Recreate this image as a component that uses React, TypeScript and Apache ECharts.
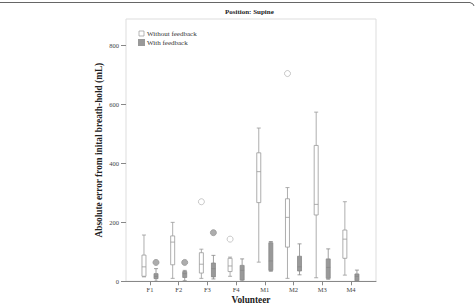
import React, { useEffect, useRef } from "react";
import * as echarts from "echarts";

const categories = ["F1", "F2", "F3", "F4", "M1", "M2", "M3", "M4"];
// [min, Q1, median, Q3, max]
const withoutFeedback = [
  [15, 17, 49, 89, 157],
  [10, 56, 133, 154, 200],
  [10, 28, 58, 97, 109],
  [17, 33, 52, 78, 82],
  [65, 267, 372, 436, 520],
  [10, 116, 217, 280, 318],
  [12, 225, 261, 461, 574],
  [21, 78, 143, 174, 270],
];
const withFeedback = [
  [0, 9, 17, 26, 43],
  [2, 13, 26, 33, 37],
  [8, 15, 43, 62, 88],
  [0, 4, 37, 54, 76],
  [34, 37, 69, 131, 135],
  [22, 35, 49, 85, 127],
  [7, 10, 47, 76, 110],
  [0, 2, 17, 25, 38],
];
// [category index, value]
const outliersWithout = [
  [2, 270],
  [3, 143],
  [5, 705],
];
const outliersWith = [
  [0, 64],
  [1, 64],
  [2, 165],
];

const SERIF = "'Liberation Serif', 'DejaVu Serif', serif";
const Y_MAX = 890;
const PLOT_LEFT = 126;
const PLOT_RIGHT = 376;
const FIRST_CAT = 150;
const CAT_STEP = 28.7;
const BOX_OFFSET = 6;

export default function App() {
  const ref = useRef<HTMLDivElement>(null);
  useEffect(() => {
    document.body.style.margin = "0";
    if (!ref.current) return;
    const chart = echarts.init(ref.current, undefined, { renderer: "svg" });
    const valMin = -(FIRST_CAT - PLOT_LEFT) / CAT_STEP;
    const valMax = categories.length - 1 + (PLOT_RIGHT - (FIRST_CAT + (categories.length - 1) * CAT_STEP)) / CAT_STEP;
    const off = BOX_OFFSET / CAT_STEP;
    const catLeft = FIRST_CAT - CAT_STEP / 2;
    const catWidth = CAT_STEP * categories.length;
    chart.setOption({
      animation: false,
      backgroundColor: "#fff",
      title: {
        text: "Position: Supine",
        left: 225,
        top: 8,
        padding: 0,
        textStyle: { fontFamily: SERIF, fontSize: 7, fontWeight: "bold", color: "#222" },
      },
      legend: {
        orient: "vertical",
        left: 138,
        top: 30,
        padding: 0,
        itemWidth: 5,
        itemHeight: 5,
        itemGap: 2,
        textStyle: { fontFamily: SERIF, fontSize: 7, color: "#333", padding: [0, 0, 0, -2] },
        data: [
          { name: "Without feedback", icon: "rect", itemStyle: { color: "#fff", borderColor: "#999", borderWidth: 0.7 } },
          { name: "With feedback", icon: "rect", itemStyle: { color: "#999", borderColor: "#999" } },
        ],
      },
      graphic: [
        {
          type: "polyline",
          shape: { points: [[0, 2.5], [470, 2.5], [473, 4], [474, 6]] },
          style: { stroke: "#666", lineWidth: 1, fill: "none" },
        },
      ],
      grid: [
        {
          left: PLOT_LEFT,
          right: 475 - PLOT_RIGHT,
          top: 19,
          bottom: 24.7,
          show: true,
          borderColor: "#ddd",
          borderWidth: 1,
          backgroundColor: "transparent",
          containLabel: false,
          outerBoundsMode: "none",
        },
        {
          left: catLeft,
          width: catWidth,
          top: 19,
          bottom: 24.7,
          containLabel: false,
          outerBoundsMode: "none",
        },
      ],
      xAxis: [
        {
          type: "value",
          gridIndex: 0,
          min: valMin,
          max: valMax,
          axisLine: { show: true, onZero: false, lineStyle: { color: "#888", width: 1 } },
          axisTick: { show: false },
          axisLabel: { show: false },
          splitLine: { show: false },
          name: "Volunteer",
          nameLocation: "middle",
          nameGap: 14.5,
          nameMoveOverlap: false,
          nameTextStyle: { fontFamily: SERIF, fontSize: 9.3, fontWeight: "bold", color: "#222" },
        },
        {
          type: "category",
          gridIndex: 1,
          data: categories,
          axisLine: { show: false, onZero: false },
          axisTick: { show: true, alignWithLabel: true, length: 4, lineStyle: { color: "#888" } },
          axisLabel: { fontFamily: SERIF, fontSize: 6.5, color: "#444", margin: 5 },
          splitLine: { show: false },
        },
      ],
      yAxis: [
        {
          type: "value",
          gridIndex: 0,
          min: 0,
          max: Y_MAX,
          interval: 200,
          axisLine: { show: false, onZero: false },
          axisTick: { show: true, length: 5, lineStyle: { color: "#888" } },
          axisLabel: { fontFamily: SERIF, fontSize: 6.5, color: "#444", margin: 7, showMaxLabel: false },
          splitLine: { show: false },
          name: "Absolute error from inital breath-hold (mL)",
          nameLocation: "middle",
          nameGap: 23,
          nameMoveOverlap: false,
          nameTextStyle: { fontFamily: SERIF, fontSize: 9.3, fontWeight: "bold", color: "#222" },
        },
        {
          type: "value",
          gridIndex: 1,
          min: 0,
          max: Y_MAX,
          show: false,
        },
      ],
      series: [
        {
          name: "Without feedback",
          type: "boxplot",
          xAxisIndex: 1,
          yAxisIndex: 1,
          boxWidth: [4, 4],
          data: withoutFeedback,
          itemStyle: { color: "#fff", borderColor: "#999", borderWidth: 0.8 },
        },
        {
          name: "With feedback",
          type: "boxplot",
          xAxisIndex: 1,
          yAxisIndex: 1,
          boxWidth: [4, 4],
          data: withFeedback,
          itemStyle: { color: "#999", borderColor: "#888", borderWidth: 0.8 },
        },
        {
          type: "scatter",
          xAxisIndex: 0,
          yAxisIndex: 0,
          symbol: "circle",
          symbolSize: 6,
          data: outliersWithout.map(([i, v]) => [i - off, v]),
          itemStyle: { color: "#fff", borderColor: "#aaa", borderWidth: 0.8 },
        },
        {
          type: "scatter",
          xAxisIndex: 0,
          yAxisIndex: 0,
          symbol: "circle",
          symbolSize: 6,
          data: outliersWith.map(([i, v]) => [i + off, v]),
          itemStyle: { color: "#999", borderColor: "#999" },
        },
      ],
    });
    return () => chart.dispose();
  }, []);
  return <div ref={ref} style={{ width: 475, height: 306 }} />;
}
